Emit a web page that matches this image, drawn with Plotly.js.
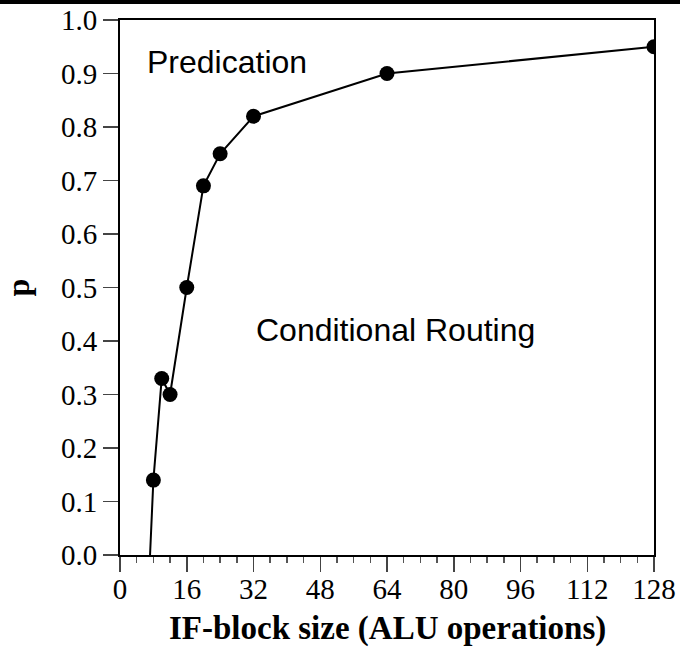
<!DOCTYPE html>
<html>
<head>
<meta charset="utf-8">
<script src="https://cdn.plot.ly/plotly-3.0.1.min.js"></script>
<style>
  html, body { margin: 0; padding: 0; background: #fff; }
  #chart { width: 680px; height: 648px; }
</style>
</head>
<body>
<div id="chart"></div>
<script>
// IF-block size (ALU operations) at which predication and conditional routing break even
const blockSize = [8, 10, 12, 16, 20, 24, 32, 64, 128];
const pValue = [0.14, 0.33, 0.30, 0.50, 0.69, 0.75, 0.82, 0.90, 0.95];
// where the boundary curve meets p = 0
const zeroCrossing = 7.2;

const xTickVals = [0, 16, 32, 48, 64, 80, 96, 112, 128];
const yTickVals = [0, 0.1, 0.2, 0.3, 0.4, 0.5, 0.6, 0.7, 0.8, 0.9, 1.0];
const yTickText = yTickVals.map(v => v.toFixed(1));

const regionLabels = ["Predication", "Conditional Routing"];
const regionX = [25.6, 66.1];
const regionY = [0.922, 0.42];

const xTitle = 'IF-block size (ALU operations)';

const boundary = {
  x: [zeroCrossing].concat(blockSize),
  y: [0].concat(pValue),
  mode: 'lines',
  line: { color: '#000', width: 2 },
  hoverinfo: 'skip',
  showlegend: false
};

const points = {
  x: blockSize,
  y: pValue,
  mode: 'markers',
  marker: { color: '#000', size: 15 },
  showlegend: false
};

const serif = '"Liberation Serif", "Times New Roman", serif';
const sans = '"Liberation Sans", Arial, Helvetica, sans-serif';

const plotH = 648 - 20 - 93;

const annotations = regionLabels.map((t, i) => ({
  text: t,
  x: regionX[i],
  y: regionY[i],
  xref: 'x',
  yref: 'y',
  showarrow: false,
  xanchor: 'center',
  yanchor: 'middle',
  font: { family: sans, size: 32, color: '#000' }
}));

// x-axis title, placed just under the tick labels
annotations.push({
  text: '<b>' + xTitle + '</b>',
  x: 0.5,
  y: -74 / plotH,
  xref: 'paper',
  yref: 'paper',
  showarrow: false,
  xanchor: 'center',
  yanchor: 'middle',
  font: { family: serif, size: 33, color: '#000' }
});

const layout = {
  width: 680,
  height: 648,
  margin: { l: 120, r: 26, t: 20, b: 93 },
  paper_bgcolor: '#fff',
  plot_bgcolor: '#fff',
  showlegend: false,
  xaxis: {
    range: [0, 128],
    tickvals: xTickVals,
    ticks: 'outside',
    ticklen: 15,
    tickwidth: 1.5,
    tickcolor: '#444',
    ticklabelstandoff: -8,
    minor: { dtick: 4, tick0: 0, ticks: 'outside', ticklen: 6, tickwidth: 1.5, tickcolor: '#555' },
    showgrid: false,
    zeroline: false,
    showline: true,
    linecolor: '#000',
    linewidth: 2,
    mirror: true,
    tickfont: { family: serif, size: 29, color: '#000' }
  },
  yaxis: {
    range: [0, 1],
    tickvals: yTickVals,
    ticktext: yTickText,
    ticks: 'outside',
    ticklen: 15,
    tickwidth: 1.5,
    tickcolor: '#444',
    showgrid: false,
    zeroline: false,
    showline: true,
    linecolor: '#000',
    linewidth: 2,
    mirror: true,
    tickfont: { family: serif, size: 29, color: '#000' },
    title: { text: '<b>p</b>', font: { family: serif, size: 32, color: '#000' }, standoff: 27 }
  },
  annotations: annotations,
  shapes: [{
    type: 'rect',
    xref: 'paper',
    yref: 'paper',
    x0: -120 / 534,
    x1: (534 + 26) / 534,
    y0: 1 + 16 / 535,
    y1: 1 + 21 / 535,
    fillcolor: '#000',
    line: { width: 0 }
  }]
};

Plotly.newPlot('chart', [boundary, points], layout, { displayModeBar: false, staticPlot: true });
</script>
</body>
</html>
